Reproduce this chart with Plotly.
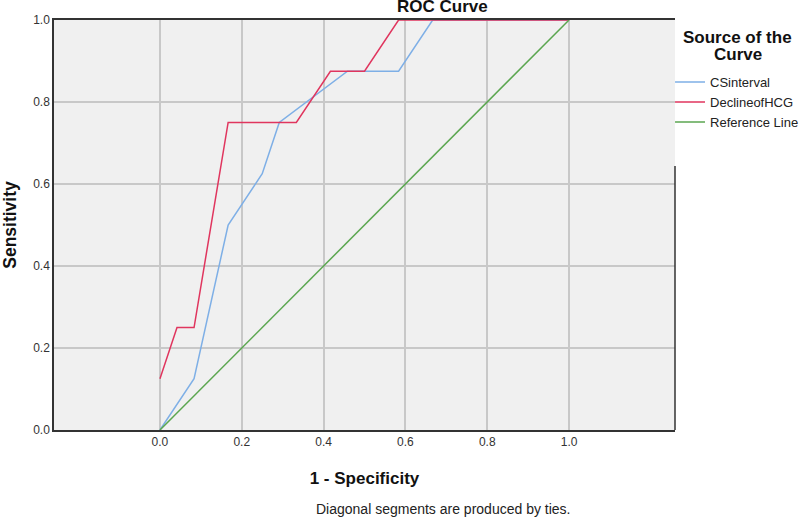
import plotly.graph_objects as go

# Data (1 - Specificity, Sensitivity)
cs_x = [0.0, 2/24, 4/24, 6/24, 7/24, 11/24, 14/24, 16/24, 1.0]
cs_y = [0.0, 0.125, 0.5, 0.625, 0.75, 0.875, 0.875, 1.0, 1.0]
hcg_x = [0.0, 1/24, 2/24, 4/24, 8/24, 10/24, 12/24, 14/24, 1.0]
hcg_y = [0.125, 0.25, 0.25, 0.75, 0.75, 0.875, 0.875, 1.0, 1.0]
ref_x = [0.0, 1.0]
ref_y = [0.0, 1.0]
series_names = ["CSinterval", "DeclineofHCG", "Reference Line"]
series_colors = ["#7EAFE6", "#E0355E", "#5BA650"]
tick_vals = [0.0, 0.2, 0.4, 0.6, 0.8, 1.0]
tick_text = ["0.0", "0.2", "0.4", "0.6", "0.8", "1.0"]

FONT = "Liberation Sans, Arial, sans-serif"

fig = go.Figure()
for xs, ys, name, col in zip([cs_x, hcg_x, ref_x], [cs_y, hcg_y, ref_y],
                             series_names, series_colors):
    fig.add_trace(go.Scatter(x=xs, y=ys, mode="lines", name=name,
                             line=dict(color=col, width=1.5),
                             cliponaxis=False))

fig.update_layout(
    width=800, height=518,
    margin=dict(l=54, r=125, t=20, b=88, autoexpand=False),
    paper_bgcolor="white",
    plot_bgcolor="#F0F0F0",
    font=dict(family=FONT, size=12, color="#222222"),
    showlegend=True,
    legend=dict(
        x=0.992, xanchor="left", xref="paper",
        y=0.885, yanchor="top",
        font=dict(size=13, color="#222222"),
        bgcolor="rgba(0,0,0,0)",
        tracegroupgap=0,
        itemwidth=30,
    ),
    xaxis=dict(
        range=[-0.259, 1.259],
        tickvals=tick_vals, ticktext=tick_text,
        showgrid=True, gridcolor="#C8C8C8", gridwidth=1.5,
        zeroline=False, automargin=False,
        showline=True, linecolor="#333333", linewidth=1.5, mirror=True,
        ticks="", tickfont=dict(size=12, color="#333333"),
        title=dict(text="<b>1 - Specificity</b>", font=dict(size=17, color="#111111"),
                   standoff=24),
    ),
    yaxis=dict(
        range=[0, 1],
        tickvals=tick_vals, ticktext=tick_text,
        showgrid=True, gridcolor="#C8C8C8", gridwidth=1.5,
        zeroline=False, automargin=False,
        showline=True, linecolor="#333333", linewidth=1.5,
        ticks="", tickfont=dict(size=12, color="#333333"),
        title=dict(text="<b>Sensitivity</b>", font=dict(size=17.5, color="#111111"),
                   standoff=16),
    ),
)

# partial right border of the plot frame
fig.add_shape(type="line", xref="paper", yref="y", x0=1, x1=1, y0=0, y1=0.644,
              line=dict(color="#333333", width=1.5))

# title
fig.add_annotation(text="<b>ROC Curve</b>", xref="paper", yref="paper",
                   x=0.626, y=1.034, xanchor="center", yanchor="middle",
                   showarrow=False, font=dict(size=17, color="#111111"))
# legend title (two lines, tight spacing)
fig.add_annotation(text="<b>Source of the</b>", xref="paper", yref="paper",
                   x=1.101, y=0.9561, xanchor="center", yanchor="middle",
                   showarrow=False, font=dict(size=17, color="#111111"))
fig.add_annotation(text="<b>Curve</b>", xref="paper", yref="paper",
                   x=1.101, y=0.917, xanchor="center", yanchor="middle",
                   showarrow=False, font=dict(size=17, color="#111111"))
# footnote
fig.add_annotation(text="Diagonal segments are produced by ties.", xref="paper", yref="paper",
                   x=0.627, y=-0.193, xanchor="center", yanchor="middle",
                   showarrow=False, font=dict(size=14, color="#222222"))

fig.write_html("out.html", post_script="document.body.style.margin='0';",
               config={"displayModeBar": False})
